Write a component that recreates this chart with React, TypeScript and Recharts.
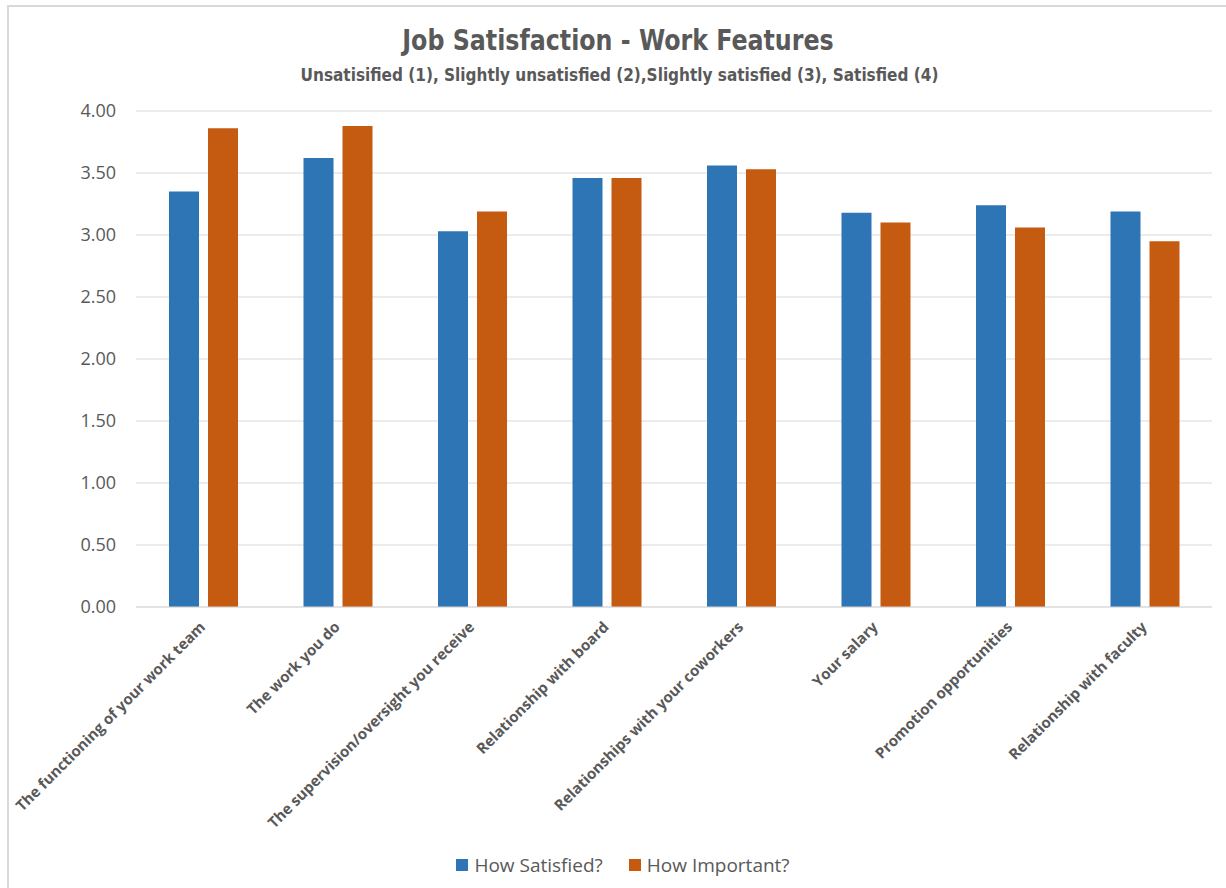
import React from "react";
import { BarChart, Bar, XAxis, YAxis, CartesianGrid, Legend } from "recharts";

const categories = [
  "The functioning of your work team",
  "The work you do",
  "The supervision/oversight you receive",
  "Relationship with board",
  "Relationships with your coworkers",
  "Your salary",
  "Promotion opportunities",
  "Relationship with faculty",
];
const satisfied = [3.35, 3.62, 3.03, 3.46, 3.56, 3.18, 3.24, 3.19];
const important = [3.86, 3.88, 3.19, 3.46, 3.53, 3.1, 3.06, 2.95];
const yTicks = [0, 0.5, 1, 1.5, 2, 2.5, 3, 3.5, 4];

const data = categories.map((name, i) => ({
  name,
  satisfied: satisfied[i],
  important: important[i],
}));

const GREY = "#595959";
const NARROW = "'Liberation Sans Narrow', 'DejaVu Sans Condensed', sans-serif";
const SANS = "'Open Sans', sans-serif";

function CategoryTick(props: any) {
  const { x, y, payload } = props;
  return (
    <g transform={`translate(${x + 3},${y + 21})`}>
      <text
        transform="rotate(-45)"
        textAnchor="end"
        fill={GREY}
        fontSize={15}
        fontWeight={700}
        fontFamily={SANS}
      >
        {payload.value}
      </text>
    </g>
  );
}

function LegendContent() {
  const items = [
    { label: "How Satisfied?", color: "#2E75B6" },
    { label: "How Important?", color: "#C55A11" },
  ];
  return (
    <div style={{ display: "flex", justifyContent: "center", gap: 26, fontFamily: SANS, fontSize: 19, color: GREY }}>
      {items.map((it) => (
        <div key={it.label} style={{ display: "flex", alignItems: "center", gap: 6 }}>
          <span style={{ width: 12, height: 12, background: it.color, display: "inline-block" }} />
          <span>{it.label}</span>
        </div>
      ))}
    </div>
  );
}

export default function App() {
  return (
    <div style={{ position: "fixed", left: 0, top: 0, width: 1226, height: 888, background: "#fff", overflow: "hidden" }}>
      <div
        style={{
          position: "absolute",
          left: 7,
          top: 5,
          width: 1240,
          height: 900,
          border: "2px solid #d9d9d9",
          boxSizing: "border-box",
        }}
      />
      <div
        style={{
          position: "absolute",
          left: 0,
          top: 26,
          width: 1236,
          textAlign: "center",
          fontFamily: NARROW,
          fontWeight: 700,
          fontSize: 29,
          lineHeight: "29px",
          color: GREY,
          transform: "scaleX(0.91)",
        }}
      >
        Job Satisfaction - Work Features
      </div>
      <div
        style={{
          position: "absolute",
          left: 0,
          top: 66,
          width: 1239,
          textAlign: "center",
          fontFamily: NARROW,
          fontWeight: 700,
          fontSize: 18,
          lineHeight: "18px",
          color: GREY,
          transform: "scaleX(0.945)",
        }}
      >
        Unsatisified (1), Slightly unsatisfied (2),Slightly satisfied (3), Satisfied (4)
      </div>
      <div style={{ position: "absolute", left: 0, top: 0 }}>
        <BarChart
          width={1226}
          height={888}
          data={data}
          margin={{ top: 111, right: 14, left: 16, bottom: 0 }}
          barGap={9}
        >
          <CartesianGrid stroke="#d9d9d9" vertical={false} />
          <XAxis
            dataKey="name"
            interval={0}
            height={281}
            tickLine={false}
            tickSize={0}
            tickMargin={0}
            axisLine={{ stroke: "#d9d9d9" }}
            tick={<CategoryTick />}
          />
          <YAxis
            width={120}
            domain={[0, 4]}
            ticks={yTicks}
            tickFormatter={(v: number) => v.toFixed(2)}
            axisLine={false}
            tickLine={false}
            tickSize={0}
            tickMargin={20}
            tick={{ fill: GREY, fontSize: 18, fontFamily: SANS }}
          />
          <Legend
            verticalAlign="middle"
            align="center"
            wrapperStyle={{ top: 852, left: 10, width: 1226 }}
            content={<LegendContent />}
          />
          <Bar dataKey="satisfied" name="How Satisfied?" fill="#2E75B6" barSize={30} isAnimationActive={false} />
          <Bar dataKey="important" name="How Important?" fill="#C55A11" barSize={30} isAnimationActive={false} />
        </BarChart>
      </div>
    </div>
  );
}
